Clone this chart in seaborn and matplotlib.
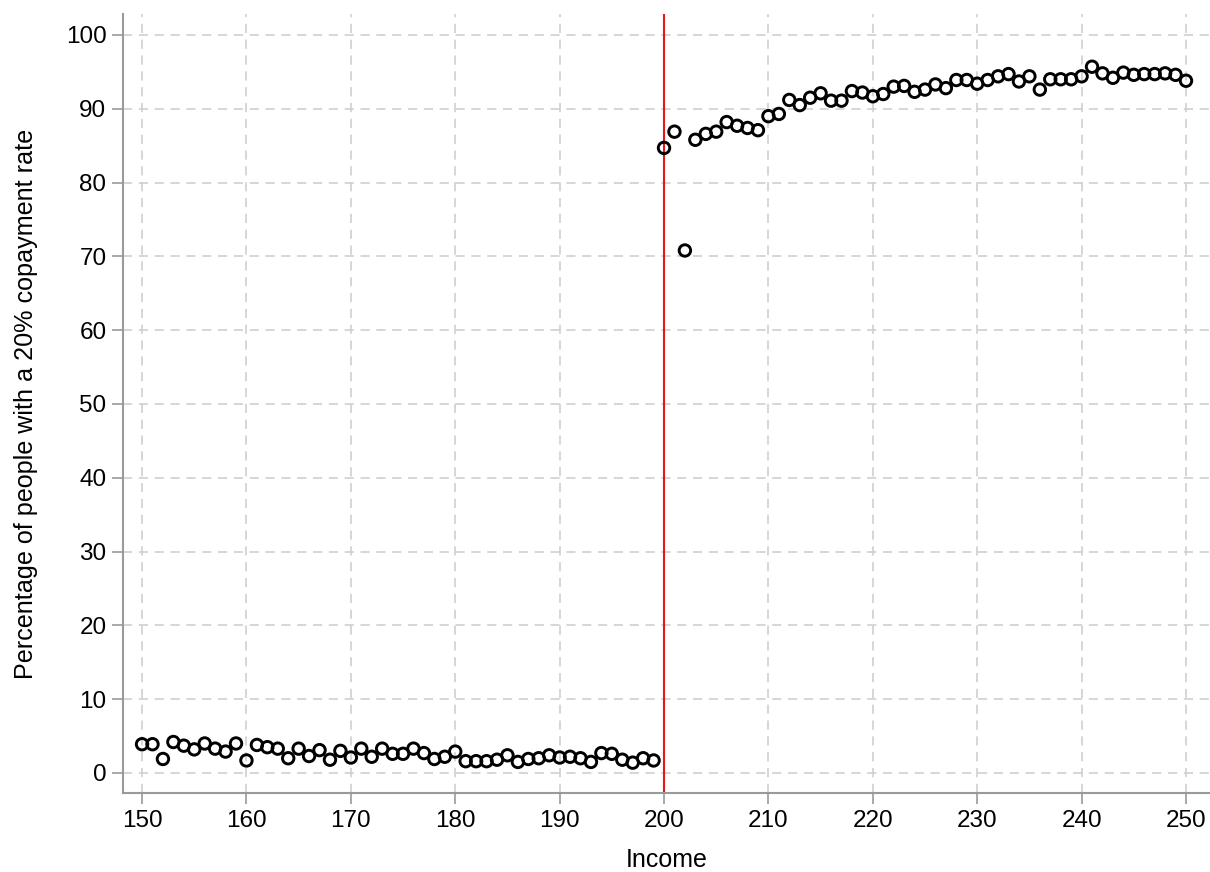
import numpy as np
import pandas as pd
import matplotlib
matplotlib.use("Agg")
import matplotlib.pyplot as plt
import seaborn as sns

# Share of people on the 20% copayment rate, by income
income = list(range(150, 251))

share_below = [
    3.9, 3.9, 1.9, 4.2, 3.7, 3.2, 4.0, 3.3, 2.9, 4.0,   # 150-159
    1.7, 3.8, 3.5, 3.3, 2.0, 3.3, 2.3, 3.1, 1.8, 3.0,   # 160-169
    2.1, 3.3, 2.2, 3.3, 2.6, 2.6, 3.3, 2.7, 1.9, 2.2,   # 170-179
    2.9, 1.6, 1.6, 1.6, 1.8, 2.4, 1.5, 1.9, 2.0, 2.4,   # 180-189
    2.1, 2.2, 2.0, 1.5, 2.7, 2.6, 1.8, 1.4, 2.0, 1.7,   # 190-199
]
share_above = [
    84.7, 86.9, 70.8, 85.8, 86.6, 86.9, 88.2, 87.7, 87.4, 87.1,   # 200-209
    89.0, 89.3, 91.2, 90.5, 91.5, 92.1, 91.1, 91.1, 92.4, 92.2,   # 210-219
    91.7, 92.0, 93.0, 93.1, 92.3, 92.6, 93.3, 92.8, 93.9, 93.9,   # 220-229
    93.4, 93.9, 94.4, 94.7, 93.7, 94.4, 92.6, 94.0, 94.0, 94.0,   # 230-239
    94.4, 95.7, 94.8, 94.2, 94.9, 94.6, 94.7, 94.7, 94.8, 94.6,   # 240-249
    93.8,                                                         # 250
]
share = share_below + share_above

cutoff = 200
x_ticks = list(range(150, 251, 10))
y_ticks = list(range(0, 101, 10))

df = pd.DataFrame({"income": income, "share": share})

sns.set_style("white")
plt.rcParams["font.family"] = ["Liberation Sans", "DejaVu Sans"]
plt.rcParams["text.color"] = "black"
plt.rcParams["axes.labelcolor"] = "black"

fig = plt.figure(figsize=(12.1, 8.72), dpi=100)
ax = fig.add_axes([0.1017, 0.0906, 0.8983, 0.8934])

spine_grey = "#9a9a9a"
ax.grid(True, color="#cfcfcf", linestyle=(0, (5.5, 4)), linewidth=1.2)
ax.set_axisbelow(True)

ax.axvline(cutoff, color="#e8161b", linewidth=1.5, zorder=2)

sns.scatterplot(data=df, x="income", y="share", ax=ax,
                marker="o", s=68, facecolor="none", edgecolor="black",
                linewidth=2.1, zorder=3)

ax.set_xlim(148.18, 252.3)
ax.set_ylim(-2.71, 102.85)
ax.set_xticks(x_ticks)
ax.set_yticks(y_ticks)

for side in ["top", "right"]:
    ax.spines[side].set_visible(False)
for side in ["left", "bottom"]:
    ax.spines[side].set_color(spine_grey)
    ax.spines[side].set_linewidth(1.5)

ax.tick_params(axis="both", which="major", direction="out", length=8,
               width=1.2, color=spine_grey, labelsize=17.5, labelcolor="black",
               pad=4, bottom=True, left=True)

ax.set_xlabel("Income", fontsize=18, labelpad=12)
ax.set_ylabel("Percentage of people with a 20% copayment rate",
              fontsize=18.1, labelpad=20)

fig.savefig("out.png", dpi=100)
